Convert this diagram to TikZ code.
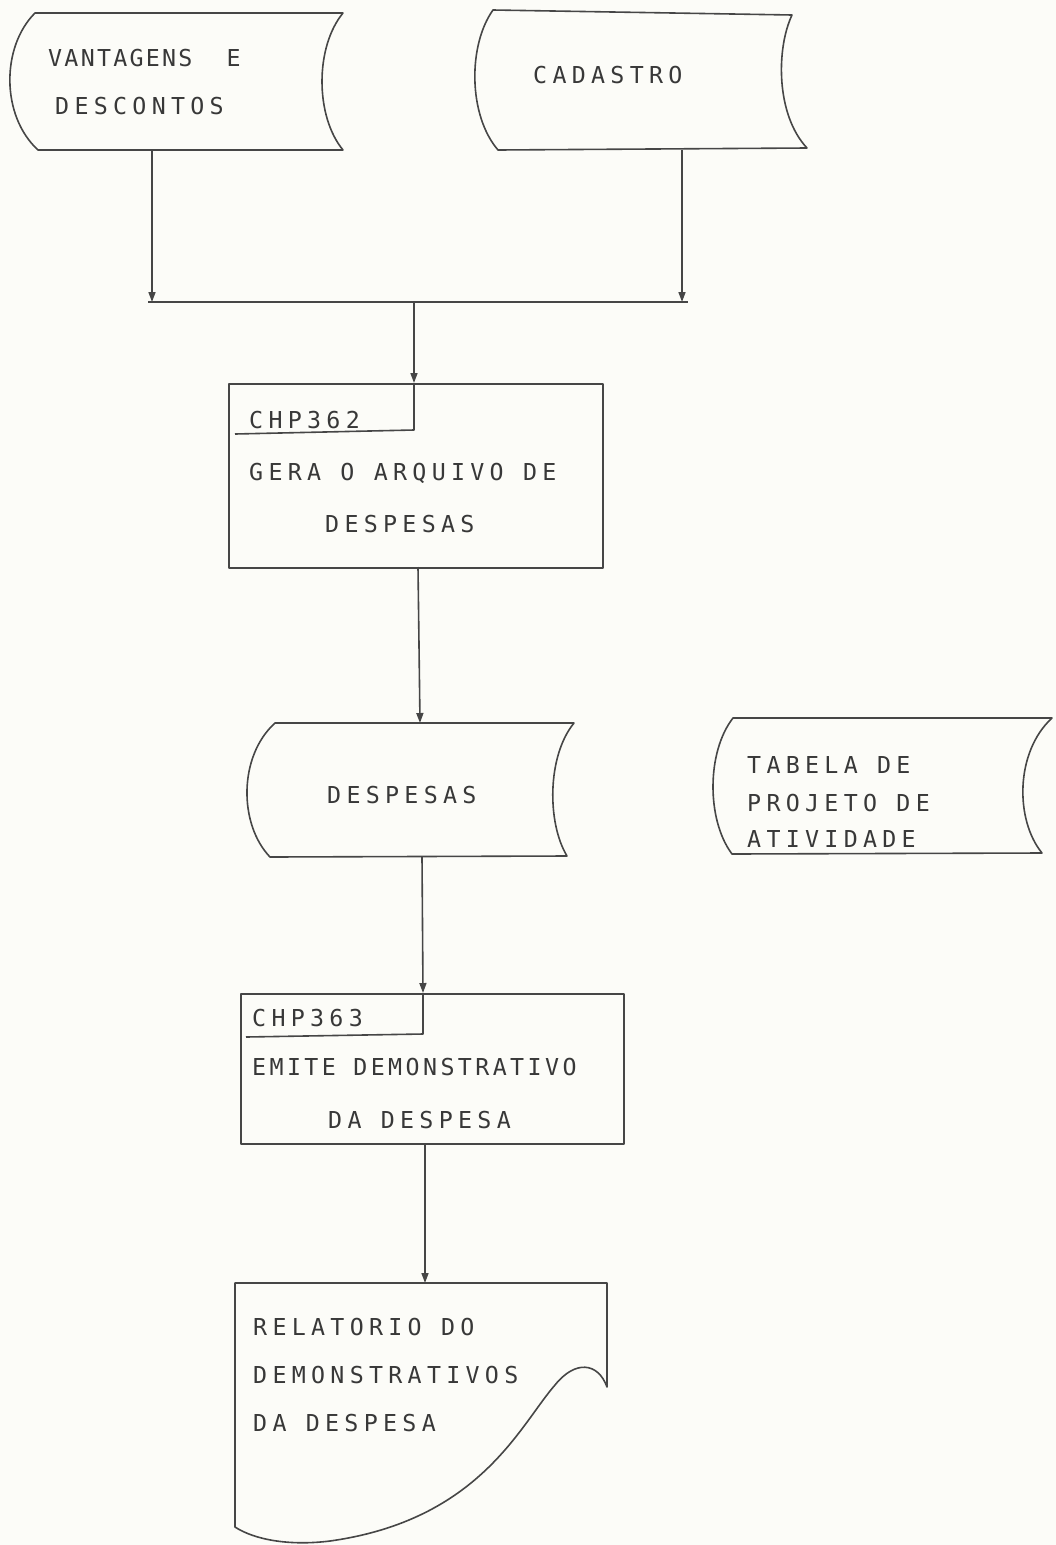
\documentclass[tikz,border=0pt]{standalone}
\usepackage{fontspec}
\usetikzlibrary{arrows.meta}
\newfontfamily\plotfont[LetterSpace=22.7]{DejaVu Sans Mono}
\newfontfamily\plotnarrow[LetterSpace=14.6]{DejaVu Sans Mono}
\newfontfamily\plottight[LetterSpace=9.7]{DejaVu Sans Mono}
\definecolor{paper}{RGB}{252,252,248}
\definecolor{ink}{RGB}{70,70,70}
\begin{document}
\begin{tikzpicture}[x=1pt,y=-1pt,
  ln/.style={draw=ink, line width=1.6pt, line join=round},
  arr/.style={ln, -{Triangle[length=10pt,width=7pt]}},
  lbl/.style={anchor=west, inner sep=0pt, text height=17pt, text depth=0pt, text=black!78,
    font={\plotfont\fontsize{23.3}{28}\selectfont}},
  lblnarrow/.style={lbl, font={\plotnarrow\fontsize{23.3}{28}\selectfont}},
  lbltight/.style={lbl, font={\plottight\fontsize{23.3}{28}\selectfont}},
  procbox/.style={ln, anchor=north west, inner sep=0pt}]
\fill[paper] (0,0) rectangle (1056,1545);
\useasboundingbox (0,0) rectangle (1056,1545);

% stored data: VANTAGENS E DESCONTOS
\draw[ln] (35,13) -- (343,13) .. controls (315,47) and (315,116) .. (343,150)
  -- (38,150) .. controls (1,116) and (1,47) .. (35,13) -- cycle;
\node[lbltight] (vant1) at (48,58) {VANTAGENS\hspace{34pt}E};
\node[lbl] (vant2) at (55,106) {DESCONTOS};

% stored data: CADASTRO
\draw[ln] (493,10) -- (792,15) .. controls (776,49) and (776,115) .. (807,148)
  -- (498,150) .. controls (468,115) and (468,45) .. (493,10) -- cycle;
\node[lbl] (cad) at (533,75) {CADASTRO};

% junction
\coordinate (vB) at (152,150);
\coordinate (cB) at (682,150);
\coordinate (jL) at (152,302);
\coordinate (jR) at (682,302);
\coordinate (hL) at (148,302);
\coordinate (hR) at (688,302);
\coordinate (jM) at (414,302);
\draw[arr] (vB) -- (jL);
\draw[arr] (cB) -- (jR);
\draw[ln] (hL) -- (hR);

% process CHP362
\node[procbox, minimum width=374pt, minimum height=184pt] (p1) at (228,383) {};
\coordinate (p1in) at (414,383);
\coordinate (s1a) at (414,430);
\coordinate (s1b) at (235,434);
\draw[arr] (jM) -- (p1in);
\draw[ln] (p1in) -- (s1a) -- (s1b);
\node[lbl] (chp362) at (249,420) {CHP362};
\node[lbl] (gera) at (249,472) {GERA O ARQUIVO DE};
\node[lbl] (desp1) at (325,524) {DESPESAS};

% stored data: DESPESAS
\coordinate (p1out) at (418,567);
\coordinate (dT) at (420,723);
\draw[arr] (p1out) -- (dT);
\draw[ln] (275,723) -- (574,723) .. controls (547,756) and (547,823) .. (567,856)
  -- (270,857) .. controls (238.5,824) and (238.5,756) .. (275,723) -- cycle;
\node[lbl] (desp2) at (327,795) {DESPESAS};

% stored data: TABELA
\draw[ln] (733,718) -- (1052,718) .. controls (1015,752) and (1015,820) .. (1042,853)
  -- (732,854) .. controls (706.5,820) and (706.5,752) .. (733,718) -- cycle;
\node[lbl] (tab1) at (747,765) {TABELA DE};
\node[lbl] (tab2) at (747,803) {PROJETO DE};
\node[lbl] (tab3) at (747,839) {ATIVIDADE};

% process CHP363
\coordinate (dB) at (422,857);
\coordinate (p2in) at (423,993);
\coordinate (s2a) at (423,1034);
\coordinate (s2b) at (246,1037);
\node[procbox, minimum width=383pt, minimum height=150pt] (p2) at (240,993) {};
\draw[arr] (dB) -- (p2in);
\draw[ln] (p2in) -- (s2a) -- (s2b);
\node[lbl] (chp363) at (252,1018) {CHP363};
\node[lblnarrow] (emite) at (252,1067) {EMITE DEMONSTRATIVO};
\node[lbl] (dades1) at (328,1120) {DA DESPESA};

% document
\coordinate (p2out) at (425,1143);
\coordinate (docT) at (425,1283);
\draw[arr] (p2out) -- (docT);
\draw[ln] (235,1283) -- (607,1283) -- (607,1387)
  .. controls (598,1362) and (575,1360) .. (555,1385)
  .. controls (520,1425) and (480,1520) .. (330,1541)
  .. controls (290,1546) and (255,1540) .. (235,1527) -- cycle;
\node[lbl] (rel1) at (253,1327) {RELATORIO DO};
\node[lbl] (rel2) at (253,1375) {DEMONSTRATIVOS};
\node[lbl] (rel3) at (253,1423) {DA DESPESA};
\end{tikzpicture}
\end{document}
